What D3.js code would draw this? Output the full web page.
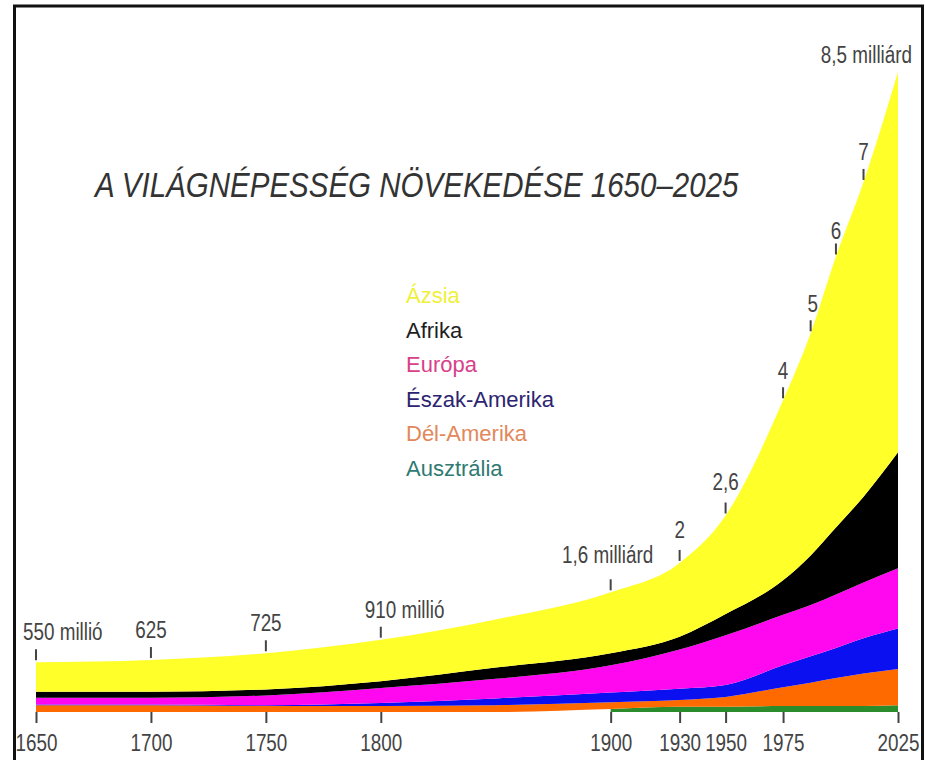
<!DOCTYPE html>
<html><head><meta charset="utf-8">
<script src="https://cdn.jsdelivr.net/npm/d3@7"></script>
<style>
html,body{margin:0;padding:0;background:#fff;}
svg{display:block;}
</style></head>
<body>
<svg id="chart" width="925" height="760"></svg>
<script>
// ---- DATA (billions) ----
const years     = [1650, 1700, 1750, 1800, 1850, 1900, 1930, 1950, 1975, 1987, 1998, 2010, 2025];
const ausztralia= [null, null, null, null, null, 0.04, 0.07, 0.07, 0.08, 0.08, 0.08, 0.08, 0.09];
const delAmerika= [0.09, 0.09, 0.08, 0.08, 0.09, 0.09, 0.09, 0.13, 0.25, 0.31, 0.37, 0.43, 0.48];
const eszakAm   = [0.01, 0.01, 0.01, 0.04, 0.09, 0.13, 0.15, 0.16, 0.29, 0.35, 0.40, 0.47, 0.54];
const europa    = [0.09, 0.09, 0.13, 0.20, 0.26, 0.36, 0.52, 0.66, 0.67, 0.68, 0.71, 0.74, 0.80];
const afrika    = [0.08, 0.08, 0.08, 0.09, 0.15, 0.16, 0.17, 0.28, 0.46, 0.66, 0.89, 1.14, 1.54];
const azsia     = [0.39, 0.42, 0.48, 0.55, 0.64, 0.81, 0.98, 1.31, 2.39, 2.95, 3.60, 4.18, 5.05];

const seriesKeys  = ["ausztralia", "delAmerika", "eszakAm", "europa", "afrika", "azsia"];
const seriesNames = ["Ausztrália", "Dél-Amerika", "Észak-Amerika", "Európa", "Afrika", "Ázsia"];
const axisYears   = [1650, 1700, 1750, 1800, 1900, 1930, 1950, 1975, 2025];
const noteYears   = [1650, 1700, 1750, 1800, 1900, 1930, 1950, 1975, 1987, 1998, 2010, 2025];
const noteLabels  = ["550 millió", "625", "725", "910 millió", "1,6 milliárd", "2", "2,6", "4", "5", "6", "7", "8,5 milliárd"];
const legendOrder = ["Ázsia", "Afrika", "Európa", "Észak-Amerika", "Dél-Amerika", "Ausztrália"];
const titleText   = "A VILÁGNÉPESSÉG NÖVEKEDÉSE 1650–2025";

// ---- styles / layout ----
const areaColors   = {ausztralia:"#2a8c2a", delAmerika:"#ff6a00", eszakAm:"#0a10f0", europa:"#ff08f0", afrika:"#000000", azsia:"#ffff2a"};
const legendColors = {"Ázsia":"#f0f03c", "Afrika":"#1e1e1e", "Európa":"#d8408a", "Észak-Amerika":"#2c2470", "Dél-Amerika":"#e2885c", "Ausztrália":"#2f7a72"};
const noteAnchor   = ["start","middle","middle","start","middle","middle","middle","middle","middle","middle","middle","end"];
const noteDx       = [-13, 0, 0, -16, -3, 0, 0, 0, 2, 0, 0, 14];
const noteDy       = [22, 22, 22, 22, 29, 25, 25, 21, 21, 17, 22, 9];
const sans = "'Liberation Sans', Arial, Helvetica, sans-serif";
const squeeze = 0.82;   // condensed look of the original lettering

const rows = years.map((y, i) => ({
  year: y, ausztralia: ausztralia[i], delAmerika: delAmerika[i], eszakAm: eszakAm[i],
  europa: europa[i], afrika: afrika[i], azsia: azsia[i]
}));

const svg = d3.select("#chart");
const x = d3.scaleLinear().domain([1650, 2025]).range([36, 898]);
const y = d3.scaleLinear().domain([0, 8.5]).range([712, 72]);

const stack = d3.stack().keys(seriesKeys).value((d, k) => d[k] == null ? 0 : d[k]);
const layers = stack(rows);

const area = d3.area()
  .x(d => x(d.data.year))
  .y0(d => y(d[0]))
  .y1(d => y(d[1]))
  .curve(d3.curveMonotoneX);

svg.append("g").selectAll("path").data(layers).join("path")
  .attr("fill", d => areaColors[d.key])
  .attr("d", d => area.defined(p => p.data[d.key] != null)(d));

// axis
const axis = d3.axisBottom(x).tickValues(axisYears).tickFormat(d3.format("d")).tickSize(11).tickPadding(12);
const gAxis = svg.append("g").attr("transform", "translate(0,712)").call(axis);
gAxis.select(".domain").remove();
gAxis.selectAll(".tick line").attr("stroke", "#444").attr("stroke-width", 2);
gAxis.selectAll(".tick text").attr("fill", "#444").style("font-family", sans).style("font-size", "23px")
  .attr("transform", `scale(${squeeze},1)`);

// annotations on the total curve
const topLayer = layers[layers.length - 1];
const totalAt = yr => topLayer.find(p => p.data.year === yr)[1];
const gNotes = svg.append("g");
noteYears.forEach((yr, i) => {
  const px = x(yr), py = y(totalAt(yr));
  const last = i === noteYears.length - 1;
  if (!last) {
    gNotes.append("line").attr("x1", px).attr("x2", px).attr("y1", py - 13).attr("y2", py - 2)
      .attr("stroke", "#444").attr("stroke-width", 2);
  }
  gNotes.append("text")
    .attr("transform", `translate(${px + noteDx[i]},${py - noteDy[i]}) scale(${squeeze},1)`)
    .attr("text-anchor", noteAnchor[i])
    .attr("fill", "#444")
    .style("font-family", sans).style("font-size", "23px")
    .text(noteLabels[i]);
});

// title
svg.append("text").attr("transform", `translate(95,197) scale(${squeeze},1)`)
  .attr("fill", "#333").style("font-family", sans).style("font-style", "italic").style("font-size", "36px")
  .text(titleText);

// legend
const gLeg = svg.append("g");
legendOrder.forEach((name, i) => {
  gLeg.append("text").attr("x", 406).attr("y", 303 + i * 34.5)
    .attr("fill", legendColors[name])
    .style("font-family", sans).style("font-size", "22px")
    .text(name);
});

// frame
svg.append("rect").attr("x", 14.5).attr("y", 6).attr("width", 908).attr("height", 800)
  .attr("fill", "none").attr("stroke", "#111").attr("stroke-width", 3);
</script>
</body></html>
